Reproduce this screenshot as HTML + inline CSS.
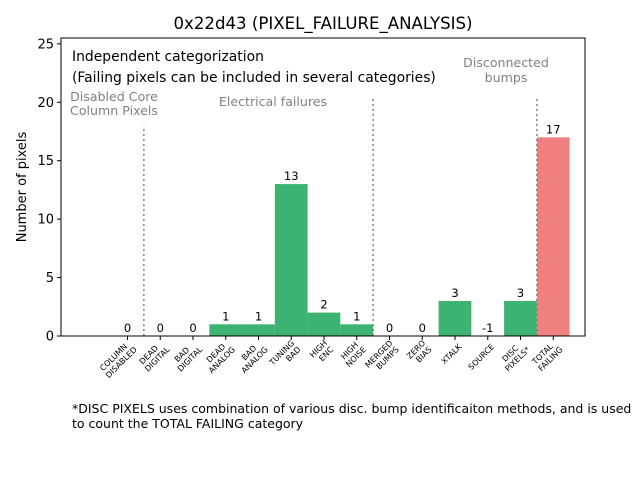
<!DOCTYPE html>
<html><head><meta charset="utf-8"><style>
body{margin:0;background:#fff;font-family:"Liberation Sans",sans-serif}
svg text{font-family:"DejaVu Sans","Liberation Sans",sans-serif}
</style></head><body>
<svg id="c" width="640" height="480" xmlns="http://www.w3.org/2000/svg">
<rect width="640" height="480" fill="#fff"/>
<text x="323" y="29" font-size="16.6" text-anchor="middle">0x22d43 (PIXEL_FAILURE_ANALYSIS)</text>
<g id="plot"></g>
<text transform="translate(26,187) rotate(-90)" font-size="13" text-anchor="middle">Number of pixels</text>
<text x="72" y="61" font-size="13.9">Independent categorization</text>
<text x="72" y="82" font-size="13.9">(Failing pixels can be included in several categories)</text>
<text x="114" y="101" font-size="12.6" fill="#808080" text-anchor="middle">Disabled Core</text>
<text x="114" y="115" font-size="12.6" fill="#808080" text-anchor="middle">Column Pixels</text>
<text x="273" y="106" font-size="12.6" fill="#808080" text-anchor="middle">Electrical failures</text>
<text x="506" y="67" font-size="12.6" fill="#808080" text-anchor="middle">Disconnected</text>
<text x="506" y="82" font-size="12.6" fill="#808080" text-anchor="middle">bumps</text>
<text x="72" y="413" font-size="12.5">*DISC PIXELS uses combination of various disc. bump identificaiton methods, and is used</text>
<text x="72" y="428" font-size="12.5">to count the TOTAL FAILING category</text>
</svg>
<script>
const categories=[["COLUMN","DISABLED"],["DEAD","DIGITAL"],["BAD","DIGITAL"],["DEAD","ANALOG"],["BAD","ANALOG"],["TUNING","BAD"],["HIGH","ENC"],["HIGH","NOISE"],["MERGED","BUMPS"],["ZERO","BIAS"],["XTALK"],["SOURCE"],["DISC","PIXELS*"],["TOTAL","FAILING"]];
const values=[0,0,0,1,1,13,2,1,0,0,3,-1,3,17];
const yTicks=[0,5,10,15,20,25];
const separators=[0.5,7.5,12.5];
const separatorTops=[18,20.5,20.5];
const NS="http://www.w3.org/2000/svg";
const L=61,R=585,T=38,B=336;
const xs=i=>127.5+32.75*i;
const ys=v=>B-v*(B-T)/25.5;
const g=document.getElementById('plot');
function mk(t,a){const e=document.createElementNS(NS,t);for(const k in a)e.setAttribute(k,a[k]);g.appendChild(e);return e;}
values.forEach((v,i)=>{
  const h=Math.max(v,0);
  const r=mk('rect',{x:xs(i)-16.4,y:ys(h),width:32.75,height:B-ys(h),fill:i===13?'#f08080':'#3cb371'});
  
  
  const t=mk('text',{x:xs(i),y:ys(h)-4,'font-size':11.5,'text-anchor':'middle'});
  t.textContent=v;
  
  
  const tk=mk('line',{x1:xs(i),x2:xs(i),y1:B,y2:B+4,stroke:'#000'});
  
  
  const lt=mk('text',{transform:`translate(${xs(i)+5},${B+9}) rotate(-45)`,'font-size':8,'text-anchor':'end'});
  
  
  const two=categories[i].length>1;
  categories[i].forEach((s,j)=>{const ts=document.createElementNS(NS,'tspan');ts.setAttribute('x',two?(j===0?-Math.max(0,(categories[i][1].length-s.length))*2.4:0):0);ts.setAttribute('dy',j===0?(two?-2:3):9);ts.textContent=s;lt.appendChild(ts);});
});
separators.forEach((s,i)=>{
  const l=mk('line',{x1:xs(s),x2:xs(s),y1:B,y2:ys(separatorTops[i]),stroke:'#808080','stroke-width':1.5,'stroke-dasharray':'2,3'});
  
  
});
yTicks.forEach(v=>{
  const l=mk('line',{x1:L-4,x2:L,y1:ys(v),y2:ys(v),stroke:'#000'});
  
  
  const t=mk('text',{x:L-7,y:ys(v)+4.5,'font-size':13,'text-anchor':'end'});
  t.textContent=v;
  
  
});
const f=mk('rect',{x:L,y:T,width:R-L,height:B-T,fill:'none',stroke:'#000'});


</script>
</body></html>
